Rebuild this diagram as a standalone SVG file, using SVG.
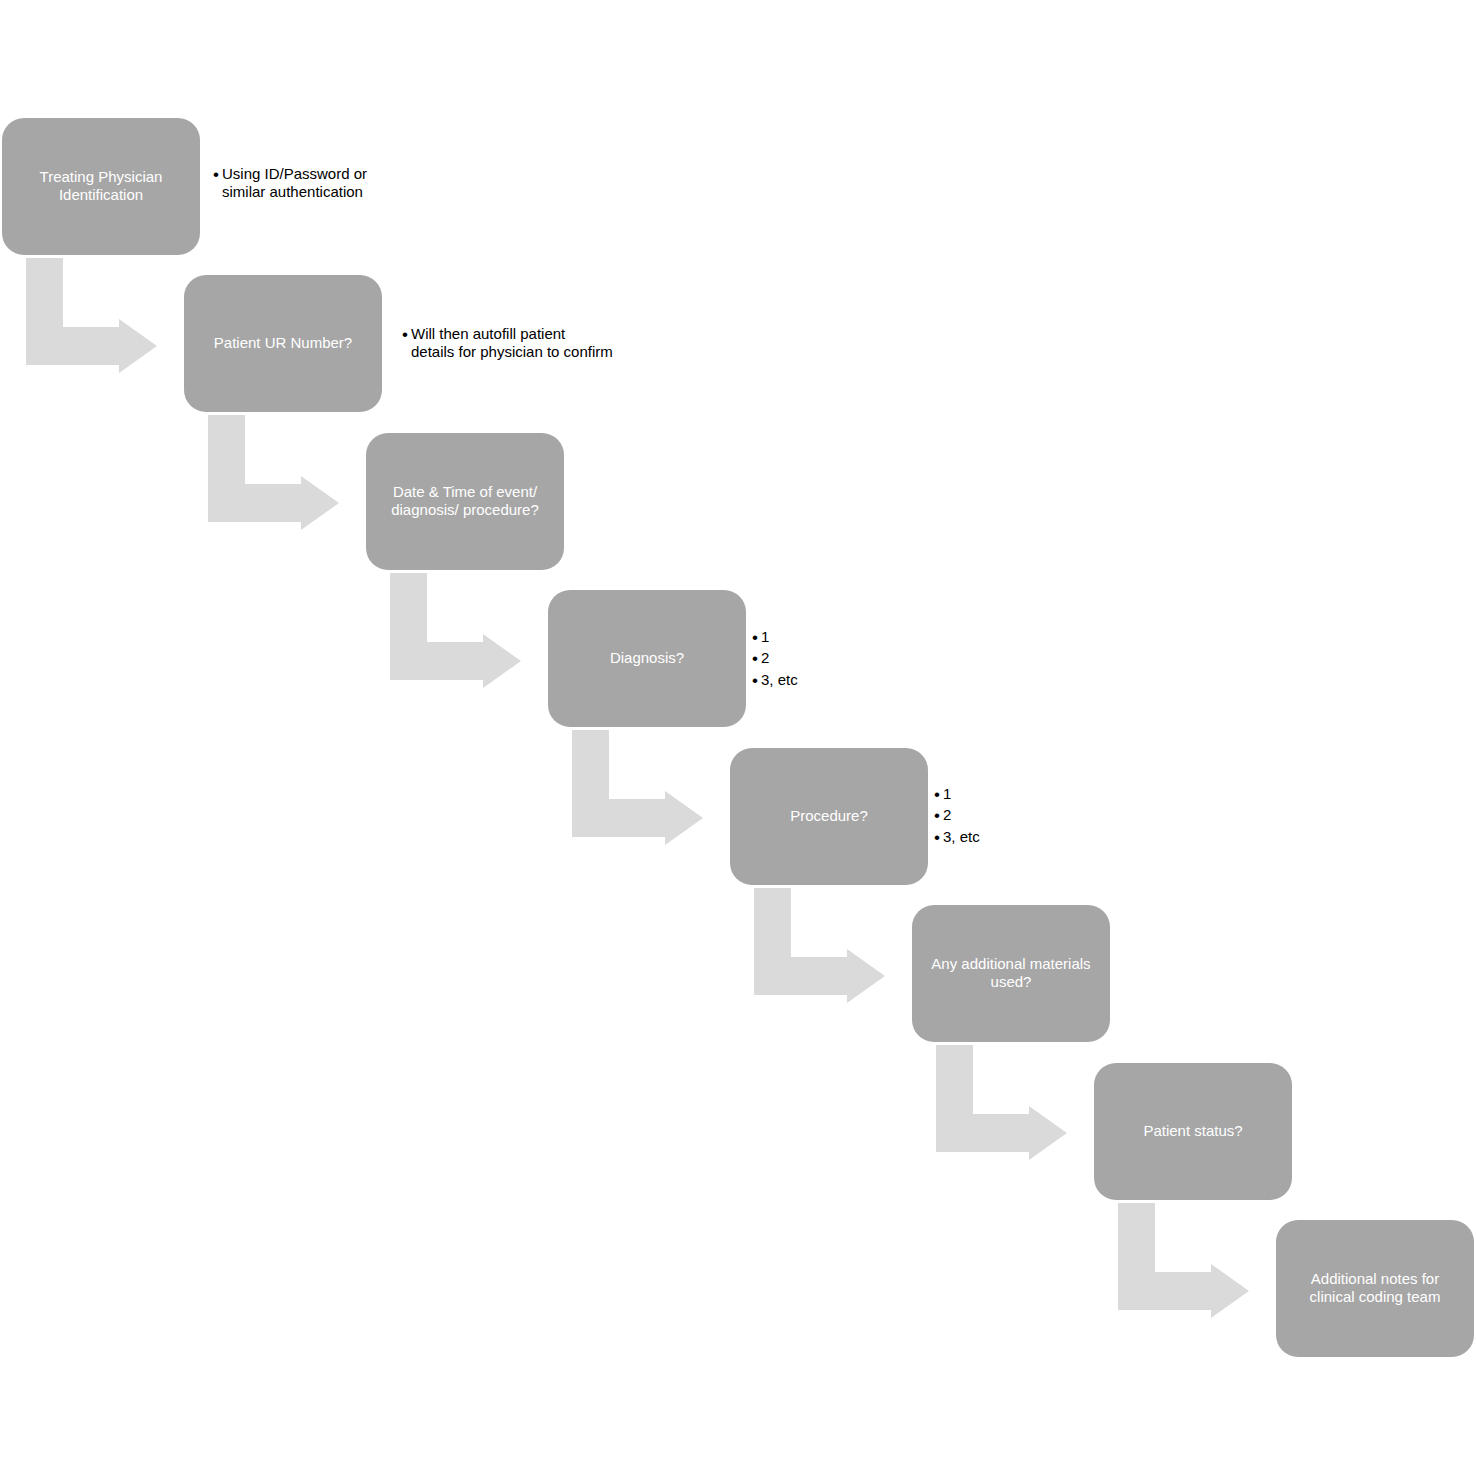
<svg xmlns="http://www.w3.org/2000/svg" width="1476" height="1477" viewBox="0 0 1476 1477">
<defs>
<style>
.box{fill:#a6a6a6;}
.arr{fill:#dadada;}
.bt{font-family:"Liberation Sans",Arial,sans-serif;font-size:15px;fill:#ffffff;text-anchor:middle;}
.nt{font-family:"Liberation Sans",Arial,sans-serif;font-size:15px;fill:#000000;}
.bu{font-family:"Liberation Sans",Arial,sans-serif;font-size:17px;fill:#000000;}
</style>
<path id="a" class="arr" d="M24,140 H61 V209 H117 V201 L155,228 L117,255 V247 H24 Z"/>
</defs>
<rect width="1476" height="1477" fill="#ffffff"/>
<g id="connectors">
<use href="#a" x="2" y="118"/>
<use href="#a" x="184" y="275"/>
<use href="#a" x="366" y="433"/>
<use href="#a" x="548" y="590"/>
<use href="#a" x="730" y="748"/>
<use href="#a" x="912" y="905"/>
<use href="#a" x="1094" y="1063"/>
</g>
<g id="n1"><rect class="box" x="2" y="118" width="198" height="137" rx="22"/>
<text class="bt" x="101" y="182">Treating Physician</text><text class="bt" x="101" y="200">Identification</text></g>
<g id="n1note"><text class="bu" x="213" y="180">•</text><text class="nt" x="222" y="179">Using ID/Password or</text><text class="nt" x="222" y="197">similar authentication</text></g>
<g id="n2"><rect class="box" x="184" y="275" width="198" height="137" rx="22"/>
<text class="bt" x="283" y="348">Patient UR Number?</text></g>
<g id="n2note"><text class="bu" x="402" y="340">•</text><text class="nt" x="411" y="339">Will then autofill patient</text><text class="nt" x="411" y="357">details for physician to confirm</text></g>
<g id="n3"><rect class="box" x="366" y="433" width="198" height="137" rx="22"/>
<text class="bt" x="465" y="497">Date &amp; Time of event/</text><text class="bt" x="465" y="515">diagnosis/ procedure?</text></g>
<g id="n4"><rect class="box" x="548" y="590" width="198" height="137" rx="22"/>
<text class="bt" x="647" y="663">Diagnosis?</text></g>
<g id="n4note"><text class="bu" x="752" y="643">•</text><text class="nt" x="761" y="642">1</text><text class="bu" x="752" y="664">•</text><text class="nt" x="761" y="663">2</text><text class="bu" x="752" y="686">•</text><text class="nt" x="761" y="685">3, etc</text></g>
<g id="n5"><rect class="box" x="730" y="748" width="198" height="137" rx="22"/>
<text class="bt" x="829" y="821">Procedure?</text></g>
<g id="n5note"><text class="bu" x="934" y="800">•</text><text class="nt" x="943" y="799">1</text><text class="bu" x="934" y="821">•</text><text class="nt" x="943" y="820">2</text><text class="bu" x="934" y="843">•</text><text class="nt" x="943" y="842">3, etc</text></g>
<g id="n6"><rect class="box" x="912" y="905" width="198" height="137" rx="22"/>
<text class="bt" x="1011" y="969">Any additional materials</text><text class="bt" x="1011" y="987">used?</text></g>
<g id="n7"><rect class="box" x="1094" y="1063" width="198" height="137" rx="22"/>
<text class="bt" x="1193" y="1136">Patient status?</text></g>
<g id="n8"><rect class="box" x="1276" y="1220" width="198" height="137" rx="22"/>
<text class="bt" x="1375" y="1284">Additional notes for</text><text class="bt" x="1375" y="1302">clinical coding team</text></g>
</svg>
